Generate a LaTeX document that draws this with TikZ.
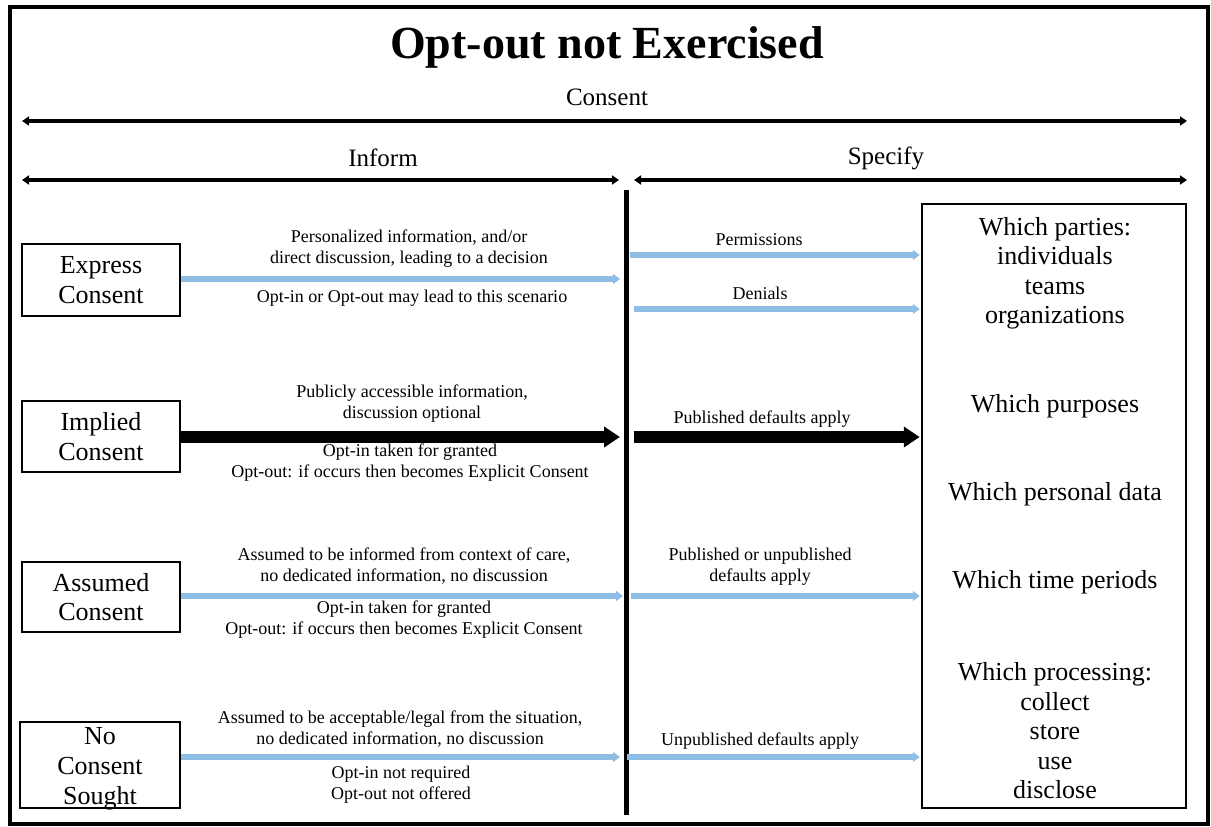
\documentclass[tikz,border=0pt]{standalone}
\usepackage{fontspec}
\setmainfont{Liberation Serif}
\usetikzlibrary{arrows.meta}
\definecolor{flowblue}{RGB}{142,189,230}
\begin{document}
\begin{tikzpicture}[x=1pt,y=-1pt,
  small/.style={font=\fontsize{18}{21}\selectfont, align=center, inner sep=0},
  mid/.style={font=\fontsize{25}{28}\selectfont, align=center, inner sep=0},
  big/.style={font=\fontsize{26}{29.5}\selectfont, align=center, inner sep=0},
  kindbox/.style={draw, line width=2.5, inner sep=0, big},
  rangearrow/.style={line width=4.5, {Triangle[length=7pt,width=9pt]}-{Triangle[length=7pt,width=9pt]}},
  bluearrow/.style={draw=flowblue, line width=5.5, -{Triangle[length=7pt,width=10pt]}},
  heavyarrow/.style={line width=12, -{Triangle[length=16pt,width=20pt]}},
]
\useasboundingbox (0,0) rectangle (1211,827);
% frame
\draw[line width=3.5] (10,7) rectangle (1208,824);

% heading
\node[font=\bfseries\fontsize{46}{50}\selectfont, inner sep=0] (title) at (607,47) {Opt-out not Exercised};
\node[mid] (consent) at (607,97) {Consent};
\coordinate (cL) at (22,121);
\coordinate (cR) at (1187,121);
\draw[rangearrow] (cL) -- (cR);

\node[mid] (inform) at (383,158) {Inform};
\node[mid] (specify) at (886,158) {Specify};
\coordinate (iL) at (22,180);
\coordinate (iR) at (619,180);
\coordinate (sL) at (634,180);
\coordinate (sR) at (1187,180);
\draw[rangearrow] (iL) -- (iR);
\draw[rangearrow] (sL) -- (sR);

% divider between the two halves
\coordinate (dTop) at (626,190);
\coordinate (dBot) at (626,815);
\draw[line width=5] (dTop) -- (dBot);

% row heights
\coordinate (rowA) at (0,279);
\coordinate (rowB) at (0,437);
\coordinate (rowC) at (0,596);
\coordinate (rowD) at (0,757);
\coordinate (perm) at (0,255);
\coordinate (deny) at (0,309);

% kinds of consent
\node[kindbox, minimum width=158, minimum height=72] (express) at (101,280) {Express\\Consent};
\node[kindbox, minimum width=158, minimum height=71] (implied) at (101,436.5) {Implied\\Consent};
\node[kindbox, minimum width=158, minimum height=70] (assumed) at (101,597) {Assumed\\Consent};
\node[kindbox, minimum width=160, minimum height=86] (nocons) at (100,765) {};
\node[big, font=\fontsize{26}{30}\selectfont] (noconsText) at (100,769) {No\\Consent\\Sought};

% what is specified
\node[draw, line width=2.5, minimum width=264, minimum height=604, inner sep=0] (spec) at (1054,506) {};
\node[big] (parties) at (1055,273.5) {Which parties:\\individuals\\teams\\organizations};
\node[big] (purposes) at (1055,406) {Which purposes};
\node[big] (pdata) at (1055,494) {Which personal data};
\node[big] (periods) at (1055,582) {Which time periods};
\node[big] (processing) at (1055,731) {Which processing:\\collect\\store\\use\\disclose};

% inform side
\draw[bluearrow, shorten >=6] (express.east |- rowA) -- (dTop |- rowA);
\draw[heavyarrow, shorten >=6] (implied.east |- rowB) -- (dTop |- rowB);
\draw[bluearrow, shorten >=3] (assumed.east |- rowC) -- (dTop |- rowC);
\draw[bluearrow, shorten >=6] (nocons.east |- rowD) -- (dTop |- rowD);

\node[small] (expTop) at (409,249) {Personalized information, and/or\\direct discussion, leading to a decision};
\node[small] (expBot) at (412,298) {Opt-in or Opt-out may lead to this scenario};
\node[small] (impTop) at (412,404) {Publicly accessible information,\\discussion optional};
\node[small] (impBot) at (410,463) {Opt-in taken for granted\\Opt-out: if occurs then becomes Explicit Consent};
\node[small] (assTop) at (404,566) {Assumed to be informed from context of care,\\no dedicated information, no discussion};
\node[small] (assBot) at (404,620) {Opt-in taken for granted\\Opt-out: if occurs then becomes Explicit Consent};
\node[small] (noTop) at (400,729) {Assumed to be acceptable/legal from the situation,\\no dedicated information, no discussion};
\node[small] (noBot) at (401,785) {Opt-in not required\\Opt-out not offered};

% specify side
\draw[bluearrow, shorten <=4, shorten >=1] (dTop |- perm) -- (spec.west |- perm);
\draw[bluearrow, shorten <=8, shorten >=1] (dTop |- deny) -- (spec.west |- deny);
\draw[heavyarrow, shorten <=8, shorten >=1] (dTop |- rowB) -- (spec.west |- rowB);
\draw[bluearrow, shorten <=5, shorten >=1] (dTop |- rowC) -- (spec.west |- rowC);
\draw[bluearrow, shorten <=1, shorten >=1] (dTop |- rowD) -- (spec.west |- rowD);

\node[small] (permLbl) at (759,240) {Permissions};
\node[small] (denyLbl) at (760,293) {Denials};
\node[small] (pubLbl) at (762,419) {Published defaults apply};
\node[small] (pubUnLbl) at (760,567) {Published or unpublished\\defaults apply};
\node[small] (unpubLbl) at (760,741) {Unpublished defaults apply};
\end{tikzpicture}
\end{document}
